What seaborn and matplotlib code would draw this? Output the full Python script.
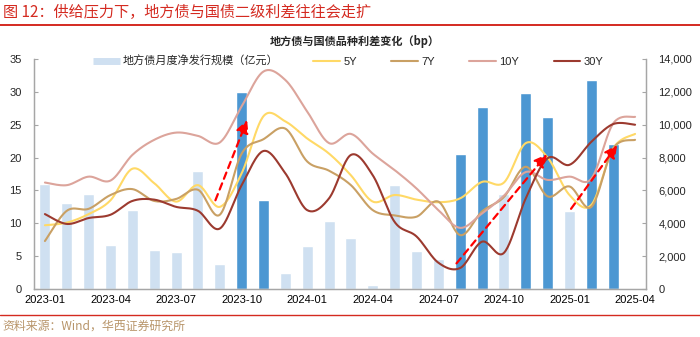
import numpy as np
import pandas as pd
import matplotlib
matplotlib.use("Agg")
import matplotlib.pyplot as plt
from matplotlib.lines import Line2D
import seaborn as sns

# ---------------- data ----------------
months = pd.period_range("2023-01", "2025-04", freq="M").strftime("%Y-%m").tolist()  # 28 categories
bar_months = months[:27]
issuance = [6400, 5250, 5800, 2700, 4800, 2400, 2250, 7200, 1550, 12000, 5400, 950,
            2600, 4150, 3100, 250, 6350, 2300, 1850, 8200, 11050, 5800, 11900, 10450,
            4750, 12700, 8800]
highlight = [0, 0, 0, 0, 0, 0, 0, 0, 0, 1, 1, 0,
             0, 0, 0, 0, 0, 0, 0, 1, 1, 0, 1, 1,
             0, 1, 1]
s5y = [9.7, 10.1, 11.4, 13.5, 18.3, 16.1, 13.3, 15.8, 12.5, 17.6, 26.3, 25.5, 22.9, 20.6,
       17.3, 13.3, 14.3, 13.6, 13.2, 13.8, 16.3, 16.2, 22.2, 20.0, 14.3, 12.8, 21.4, 23.6]
s7y = [7.3, 11.9, 12.2, 14.3, 15.2, 13.4, 13.7, 15.1, 11.3, 20.6, 22.8, 24.4, 19.4, 18.0,
       15.8, 12.0, 11.2, 11.0, 13.3, 8.2, 11.8, 14.0, 18.6, 14.1, 15.6, 12.5, 21.4, 22.7]
s10y = [16.2, 15.8, 17.1, 16.5, 20.4, 22.7, 23.8, 23.3, 22.3, 27.8, 33.1, 31.8, 27.0, 22.2,
        23.6, 20.6, 18.1, 15.3, 12.0, 9.3, 11.5, 14.2, 17.8, 16.6, 17.1, 16.8, 25.2, 26.2]
s30y = [11.4, 9.9, 10.8, 11.3, 13.4, 13.6, 12.5, 11.9, 9.2, 15.8, 21.0, 17.6, 12.0, 13.8,
        20.4, 17.3, 10.2, 8.0, 4.0, 3.2, 7.2, 5.5, 13.8, 19.9, 18.9, 22.4, 25.1, 25.0]
series_names = ["5Y", "7Y", "10Y", "30Y"]
series_vals = [s5y, s7y, s10y, s30y]
tick_labels = months[::3]
bar_label = "地方债月度净发行规模（亿元）"
# trend arrows (start month-index, start bp) -> (end month-index, end bp)
arrows = [((7.8, 13.5), (9.25, 25.7)),
          ((18.83, 3.9), (22.97, 20.5)),
          ((24.07, 12.2), (26.18, 21.9))]

# ---------------- style ----------------
sns.set_style("white")
plt.rcParams["font.family"] = ["Liberation Sans", "Noto Sans CJK SC", "DejaVu Sans"]
RED = "#D42A20"
LIGHT = "#CFE0F1"
DARK = "#4C97D2"
line_colors = {"5Y": "#FFD966", "7Y": "#C9A064", "10Y": "#DCA49B", "30Y": "#9C3A2F"}
SPINE = "#A6A6A6"


def smooth(xs, ys, n=24):
    """Excel-style smoothed line (Catmull-Rom Bezier through the monthly points)."""
    P = np.column_stack([xs, ys]).astype(float)
    P = np.vstack([P[0], P, P[-1]])
    out = []
    t = np.linspace(0, 1, n, endpoint=False)[:, None]
    for i in range(1, len(P) - 2):
        p0, p1, p2, p3 = P[i - 1], P[i], P[i + 1], P[i + 2]
        b1 = p1 + (p2 - p0) / 6
        b2 = p2 - (p3 - p1) / 6
        seg = ((1 - t) ** 3) * p1 + 3 * ((1 - t) ** 2) * t * b1 + 3 * (1 - t) * t ** 2 * b2 + t ** 3 * p2
        out.append(seg)
    out.append(P[-2][None, :])
    return np.vstack(out)


fig = plt.figure(figsize=(7.0, 3.37), dpi=100)
ax = fig.add_axes([34 / 700, 1 - 289 / 337, 612 / 700, 230 / 337])

# bars (right axis)
df_bar = pd.DataFrame({"idx": np.arange(len(bar_months)), "val": issuance,
                       "grp": ["dark" if h else "light" for h in highlight]})
sns.barplot(data=df_bar, x="idx", y="val", hue="grp", palette={"light": LIGHT, "dark": DARK},
            native_scale=True, dodge=False, width=0.5, saturation=1, legend=False, ax=ax)
ax.set_ylim(0, 14000)
ax.set_yticks(np.arange(0, 14001, 2000))
ax.set_yticklabels([f"{v:,}" for v in range(0, 14001, 2000)])
ax.set_xlabel("")
ax.set_ylabel("")

# lines (left axis)
ax2 = ax.twinx()
ax.yaxis.tick_right()
ax.yaxis.set_label_position("right")
ax2.yaxis.tick_left()
ax2.yaxis.set_label_position("left")
rows = []
for name, vals in zip(series_names, series_vals):
    c = smooth(np.arange(len(vals)), vals)
    rows.append(pd.DataFrame({"x": c[:, 0], "y": c[:, 1], "s": name}))
df_line = pd.concat(rows, ignore_index=True)
sns.lineplot(data=df_line, x="x", y="y", hue="s", palette=line_colors, sort=False,
             estimator=None, units="s", linewidth=1.5, legend=False, ax=ax2)
ax2.set_ylim(0, 35)
ax2.set_yticks(np.arange(0, 36, 5))
ax2.set_xlabel("")
ax2.set_ylabel("")

for (x0, y0), (x1, y1) in arrows:
    ax2.annotate("", xy=(x1, y1), xytext=(x0, y0),
                 arrowprops=dict(arrowstyle="-|>,head_length=0.75,head_width=0.38", color="#FF0000",
                                 lw=1.6, linestyle=(0, (3, 2.2)), shrinkA=0, shrinkB=0,
                                 mutation_scale=10))

# x axis
for a in (ax, ax2):
    a.set_xlim(-0.5, 27.5)
ax.set_xticks(np.arange(0, 28, 3))
ax.set_xticklabels(tick_labels)
ax.set_xticks(np.arange(-0.5, 27, 3), minor=True)
ax.tick_params(axis="x", which="major", length=0, labelsize=8, pad=4, colors="#000000")
ax.tick_params(axis="x", which="minor", length=3, direction="in", color=SPINE)
ax.tick_params(axis="y", which="major", length=3, direction="in", color=SPINE, labelsize=8, pad=9,
               left=False, labelleft=False, right=True, labelright=True)
ax2.tick_params(axis="y", which="major", length=3, direction="in", color=SPINE, labelsize=8, pad=9,
                right=False, labelright=False, left=True, labelleft=True)
ax2.tick_params(axis="x", which="both", length=0, labelbottom=False)

for a in (ax, ax2):
    a.spines["top"].set_visible(False)
    for s in ("left", "right", "bottom"):
        a.spines[s].set_color(SPINE)
        a.spines[s].set_linewidth(0.9)

# legend
handles = [Line2D([], [], color=LIGHT, lw=5, solid_capstyle="butt")]
handles += [Line2D([], [], color=line_colors[n], lw=1.5) for n in series_names]
labels = [bar_label] + series_names
fig.legend(handles, labels, loc="center left", bbox_to_anchor=(93 / 700, 1 - 61 / 337),
           ncol=5, frameon=False, fontsize=8, handlelength=2.4, handletextpad=0.3,
           columnspacing=3.1, borderpad=0, borderaxespad=0)

# titles / decorations
fig.text(3 / 700, 1 - 12 / 337, "图 12：供给压力下，地方债与国债二级利差往往会走扩",
         color=RED, fontsize=10.9, va="center", ha="left",
         family=["Noto Sans CJK SC", "DejaVu Sans"])
fig.add_artist(Line2D([0, 1], [1 - 24.5 / 337] * 2, color=RED, lw=1.4))
fig.text(355 / 700, 1 - 42 / 337, "地方债与国债品种利差变化（bp）", fontsize=8,
         fontweight="bold", ha="center", va="center",
         family=["Noto Sans CJK SC", "DejaVu Sans"])
fig.add_artist(Line2D([0, 1], [1 - 315 / 337] * 2, color=RED, lw=1.0))
fig.text(2 / 700, 1 - 326 / 337, "资料来源：Wind，华西证券研究所", fontsize=8.6,
         color="#B8956A", ha="left", va="center",
         family=["Noto Sans CJK SC", "DejaVu Sans"])

fig.savefig("out.png", dpi=100)
